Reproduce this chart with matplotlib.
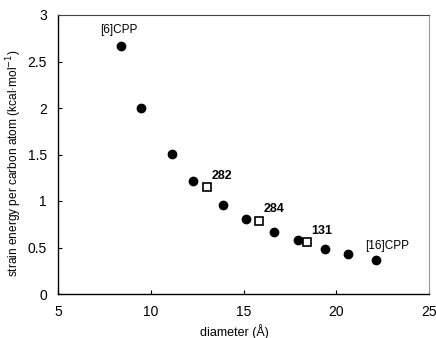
import matplotlib
matplotlib.use("Agg")
import matplotlib.pyplot as plt

plt.rcParams['font.family'] = ['Liberation Sans', 'DejaVu Sans']

# CPP (filled circles)
cpp_d = [8.40, 9.49, 11.15, 12.26, 13.88, 15.12, 16.64, 17.92, 19.38, 20.62, 22.14]
cpp_e = [2.67, 2.00, 1.505, 1.21, 0.957, 0.806, 0.67, 0.58, 0.487, 0.43, 0.366]

# open squares
sq_d = [13.03, 15.82, 18.44]
sq_e = [1.147, 0.785, 0.556]
sq_lab = ["282", "284", "131"]
sq_lab_xy = [(13.28, 1.27), (16.1, 0.91), (18.67, 0.68)]

x_ticks = [5, 10, 15, 20, 25]
y_ticks = [0, 0.5, 1, 1.5, 2, 2.5, 3]
y_tick_lab = ["0", "0.5", "1", "1.5", "2", "2.5", "3"]

fig = plt.figure(figsize=(4.36, 3.38), dpi=100)
ax = fig.add_axes([58/436, 1-294/338, (429-58)/436, (294-15)/338])

ax.plot(cpp_d, cpp_e, 'o', color='black', markersize=6, linestyle='none')
ax.plot(sq_d, sq_e, 's', markerfacecolor='white', markeredgecolor='black',
        markeredgewidth=1.2, markersize=5.5, linestyle='none')

for t, (tx, ty) in zip(sq_lab, sq_lab_xy):
    ax.text(tx, ty, t, fontsize=9, fontweight='bold', va='center', ha='left')
ax.text(8.29, 2.84, "[6]CPP", fontsize=8.5, ha='center', va='center')
ax.text(21.55, 0.52, "[16]CPP", fontsize=8.5, ha='left', va='center')

ax.set_xlim(5, 25)
ax.set_ylim(0, 3)
ax.set_xticks(x_ticks)
ax.set_yticks(y_ticks)
ax.set_yticklabels(y_tick_lab)
ax.tick_params(direction='in', length=3, labelsize=10, width=0.8)
ax.tick_params(axis='y', pad=8)
ax.tick_params(axis='x', pad=8)

ax.spines['left'].set_linewidth(1.0)
ax.spines['bottom'].set_linewidth(1.0)
ax.spines['top'].set_color('#444444')
ax.spines['right'].set_color('#999999')

ax.set_xlabel("diameter (Å)", fontsize=9)
ax.xaxis.set_label_coords((234.5-58)/371, -(324-294)/279)
ax.set_ylabel("strain energy per carbon atom (kcal·mol$^{-1}$)", fontsize=8.6)
ax.yaxis.set_label_coords(-(58-24)/371, (294-163)/279)

fig.savefig("out.png", dpi=100)
